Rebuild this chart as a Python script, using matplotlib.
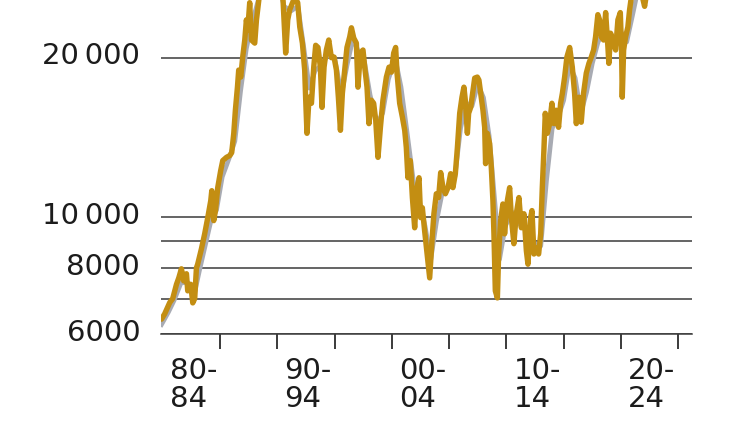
import matplotlib
matplotlib.use('Agg')
import matplotlib.pyplot as plt
import matplotlib.transforms as mtransforms

# index level (log scale, clipped at the top)
years = [
  1979.89, 1980.17, 1980.61, 1980.87, 1981.20, 1981.40, 1981.63, 1981.83, 1982.07, 1982.18,
  1982.44, 1982.62, 1982.79, 1982.94, 1983.05, 1983.38, 1983.66, 1983.93, 1984.19, 1984.28,
  1984.45, 1984.60, 1984.80, 1985.06, 1985.24, 1985.56, 1985.85, 1986.02, 1986.20, 1986.34,
  1986.52, 1986.63, 1986.81, 1986.98, 1987.16, 1987.30, 1987.42, 1987.59, 1987.74, 1988.03,
  1988.18, 1988.46, 1988.90, 1989.40, 1989.90, 1990.30, 1990.50, 1990.73, 1990.91, 1991.08,
  1991.52, 1991.78, 1991.96, 1992.19, 1992.39, 1992.48, 1992.59, 1992.77, 1992.98, 1993.18,
  1993.35, 1993.55, 1993.76, 1993.90, 1994.08, 1994.28, 1994.49, 1994.72, 1994.95, 1995.16,
  1995.33, 1995.51, 1995.68, 1995.88, 1996.08, 1996.32, 1996.47, 1996.67, 1996.90, 1997.04,
  1997.25, 1997.48, 1997.63, 1997.83, 1998.00, 1998.21, 1998.41, 1998.59, 1998.79, 1999.00,
  1999.22, 1999.52, 1999.75, 1999.96, 2000.16, 2000.33, 2000.45, 2000.68, 2000.92, 2001.12,
  2001.26, 2001.40, 2001.61, 2001.79, 2001.99, 2002.19, 2002.37, 2002.51, 2002.66, 2002.86,
  2003.08, 2003.30, 2003.50, 2003.67, 2003.88, 2004.08, 2004.26, 2004.46, 2004.67, 2004.90,
  2005.13, 2005.33, 2005.54, 2005.72, 2005.92, 2006.12, 2006.29, 2006.41, 2006.59, 2006.70,
  2006.88, 2007.08, 2007.23, 2007.46, 2007.60, 2007.75, 2007.95, 2008.10, 2008.18, 2008.33,
  2008.53, 2008.68, 2008.82, 2008.91, 2009.03, 2009.21, 2009.32, 2009.49, 2009.69, 2009.84,
  2010.08, 2010.28, 2010.43, 2010.65, 2010.86, 2011.09, 2011.30, 2011.53, 2011.74, 2011.88,
  2012.11, 2012.23, 2012.40, 2012.61, 2012.81, 2012.99, 2013.13, 2013.27, 2013.39, 2013.57,
  2013.77, 2013.97, 2014.14, 2014.35, 2014.55, 2014.73, 2014.88, 2015.08, 2015.28, 2015.52,
  2015.75, 2015.95, 2016.10, 2016.32, 2016.53, 2016.73, 2016.97, 2017.20, 2017.41, 2017.61,
  2017.78, 2017.98, 2018.13, 2018.28, 2018.48, 2018.66, 2018.86, 2018.94, 2019.09, 2019.29,
  2019.53, 2019.73, 2019.94, 2020.05, 2020.11, 2020.23, 2020.40, 2020.60, 2020.75, 2020.90,
  2021.30, 2021.70, 2022.06, 2022.30, 2023.00, 2024.00, 2025.00,
]
index = [
  6400, 6550, 6880, 7000, 7450, 7660, 7970, 7560, 7800, 7240,
  7450, 6870, 7000, 8000, 8130, 8700, 9280, 9960, 10720, 11200,
  9830, 10270, 11350, 12230, 12770, 12950, 13050, 13220, 14380, 15900,
  17580, 18940, 18370, 20050, 21590, 23570, 22560, 25400, 21590, 21300,
  23570, 26500, 28000, 29500, 28500, 27000, 25700, 20400, 23570, 24620,
  26000, 25400, 22850, 21300, 18940, 16610, 14380, 16830, 16390, 19180,
  21100, 20900, 19180, 16100, 19180, 20670, 21590, 19990, 20050, 18940,
  16830, 14570, 17120, 18940, 20900, 21880, 22770, 21780, 21300, 17580,
  20400, 20670, 19180, 17580, 15000, 16610, 16390, 15220, 12950, 14760,
  16610, 18370, 19180, 18770, 20400, 20900, 18690, 16390, 15420, 14570,
  13520, 11850, 12770, 10870, 9530, 11350, 11850, 9960, 10400, 9400,
  8500, 7660, 9000, 10130, 11050, 10870, 12120, 11350, 11050, 11350,
  12060, 11350, 12060, 13520, 15690, 16830, 17580, 16610, 14380, 15690,
  16100, 17350, 18290, 18370, 18130, 17120, 15900, 14760, 12600, 14380,
  13750, 12390, 10720, 9280, 7240, 7020, 8500, 9830, 10570, 9280,
  10720, 11350, 9960, 8890, 10130, 10870, 9530, 10130, 8620, 8130,
  9960, 10270, 8500, 8720, 8500, 9280, 11350, 13350, 15690, 14380,
  15000, 16390, 15000, 15900, 14760, 16390, 17100, 18370, 20050, 20900,
  19180, 17120, 15000, 16830, 15090, 17120, 18690, 19500, 20050, 20670,
  21880, 24110, 23570, 21880, 21590, 24330, 20900, 19500, 22240, 21590,
  20670, 23570, 24330, 20670, 16830, 20670, 21880, 22850, 24620, 26000,
  28000, 27000, 25000, 27000, 30000, 33000, 36000,
]

# smoother grey series peeking out behind the gold one
grey_years = [
  1979.89, 1980.5, 1981.0, 1981.6, 1982.2, 1982.8, 1983.2, 1983.7, 1984.2, 1984.7,
  1985.2, 1985.8, 1986.3, 1986.8, 1987.3, 1987.8, 1988.3, 1988.8, 1989.5, 1990.0,
  1990.6, 1991.2, 1991.8, 1992.3, 1992.8, 1993.3, 1993.8, 1994.4, 1995.0, 1995.6,
  1996.1, 1996.6, 1997.1, 1997.6, 1998.1, 1998.7, 1999.2, 1999.7, 2000.3, 2000.8,
  2001.3, 2001.9, 2002.4, 2002.9, 2003.4, 2003.9, 2004.4, 2005.0, 2005.5, 2006.0,
  2006.5, 2007.0, 2007.5, 2008.0, 2008.5, 2009.0, 2009.4, 2009.9, 2010.5, 2011.0,
  2011.5, 2012.0, 2012.5, 2013.0, 2013.5, 2014.0, 2014.5, 2015.0, 2015.5, 2016.0,
  2016.5, 2017.0, 2017.5, 2018.0, 2018.5, 2019.0, 2019.5, 2020.0, 2020.5, 2021.0,
  2021.5, 2022.0, 2023.0, 2025.0,
]
grey = [
  6250, 6600, 6950, 7500, 7500, 7200, 7900, 8800, 9800, 10300,
  11900, 12900, 13900, 17300, 20800, 23300, 25500, 28000, 29000, 28000,
  25000, 24500, 25000, 21000, 17500, 18900, 19300, 20200, 20000, 17000,
  19400, 21700, 20500, 19700, 17000, 15000, 15700, 18200, 19900, 17600,
  14600, 11600, 10700, 9600, 8300, 9800, 11100, 11400, 11900, 14700,
  16400, 16200, 17800, 16800, 14200, 10600, 8300, 9600, 10200, 9700,
  9700, 8800, 8900, 8800, 11700, 14700, 15400, 16600, 19400, 18300,
  15700, 17200, 19500, 21400, 22400, 21400, 21400, 22400, 21400, 24000,
  27000, 26500, 30000, 35000,
]

tick_years = [1985, 1990, 1995, 2000, 2005, 2010, 2015, 2020, 2025]
period_starts = [1980, 1990, 2000, 2010, 2020]
period_labels = ['80-\n84', '90-\n94', '00-\n04', '10-\n14', '20-\n24']
grid_levels = [6000, 7000, 8000, 9000, 10000, 20000]
grid_labels = ['6000', '', '8000', '', '10\u2009000', '20\u2009000']

gold = '#c38e12'
ink = '#1c1c1c'
rule = '#3a3a3a'

fig = plt.figure(figsize=(7.5, 4.21), dpi=100)
ax = fig.add_axes([0.2147, 0.2067, 0.708, 0.7933])

ax.plot(grey_years, grey, color='#a8abb3', lw=3.3, solid_joinstyle='round', zorder=2)
ax.plot(years, index, color=gold, lw=3.9, solid_joinstyle='round',
        solid_capstyle='round', zorder=3)

ax.set_yscale('log')
ax.set_ylim(6000, 25700)
ax.set_xlim(1979.85, 2026.2)

ax.minorticks_off()
ax.set_yticks(grid_levels)
ax.set_yticklabels(grid_labels)
ax.yaxis.grid(True, color=rule, lw=1.1)
ax.set_axisbelow(True)
ax.tick_params(axis='y', length=0, pad=15, labelsize=21, labelcolor=ink)
# nudge the value labels up a little, as in the original
lift = mtransforms.ScaledTranslation(0, 3 / 72, fig.dpi_scale_trans)
for lbl in ax.get_yticklabels():
  lbl.set_transform(lbl.get_transform() + lift)

ax.set_xticks(tick_years)
ax.set_xticklabels([''] * len(tick_years))
ax.tick_params(axis='x', length=11, width=1.4, color=rule, direction='out')

for side in ['top', 'right', 'left']:
  ax.spines[side].set_visible(False)
ax.spines['bottom'].set_color(rule)
ax.spines['bottom'].set_linewidth(1.1)

for yr, lab in zip(period_starts, period_labels):
  ax.text(yr + 0.62, -0.07, lab, transform=ax.get_xaxis_transform(),
          ha='left', va='top', fontsize=21, color=ink, linespacing=1.0)

plt.savefig('out.png', dpi=100)
